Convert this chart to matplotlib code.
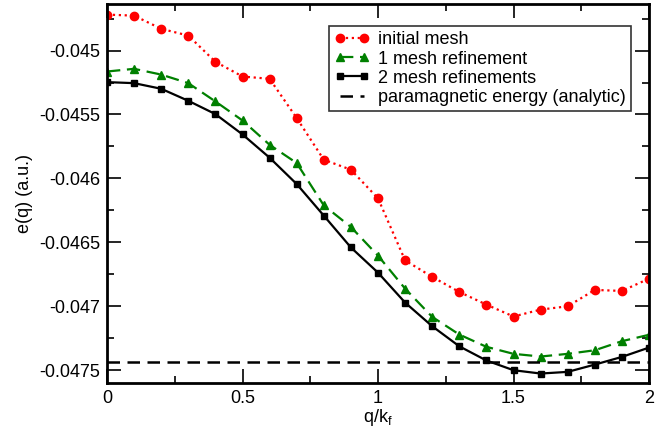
import matplotlib
matplotlib.use("Agg")
import matplotlib.pyplot as plt
from matplotlib.ticker import MultipleLocator, FuncFormatter

plt.rcParams['font.family'] = ['Liberation Sans', 'DejaVu Sans']

q = [0.0, 0.1, 0.2, 0.3, 0.4, 0.5, 0.6, 0.7, 0.8, 0.9, 1.0,
     1.1, 1.2, 1.3, 1.4, 1.5, 1.6, 1.7, 1.8, 1.9, 2.0]

initial_mesh = [-0.044719, -0.044727, -0.044830, -0.044883, -0.045088, -0.045203,
                -0.045221, -0.045528, -0.045854, -0.045932, -0.046156, -0.046641,
                -0.046770, -0.046888, -0.046987, -0.047080, -0.047026, -0.047000,
                -0.046872, -0.046880, -0.046784]

one_refinement = [-0.045164, -0.045143, -0.045188, -0.045255, -0.045398, -0.045547,
                  -0.045737, -0.045880, -0.046211, -0.046380, -0.046604, -0.046862,
                  -0.047083, -0.047221, -0.047317, -0.047372, -0.047393, -0.047372,
                  -0.047344, -0.047273, -0.047223]

two_refinements = [-0.045247, -0.045255, -0.045299, -0.045393, -0.045497, -0.045656,
                   -0.045838, -0.046044, -0.046291, -0.046540, -0.046737, -0.046971,
                   -0.047156, -0.047313, -0.047424, -0.047500, -0.047526, -0.047513,
                   -0.047456, -0.047396, -0.047323]

paramagnetic = -0.047432

labels = ["initial mesh", "1 mesh refinement", "2 mesh refinements",
          "paramagnetic energy (analytic)"]

fig = plt.figure(figsize=(6.68, 4.37), dpi=100)
ax = fig.add_axes([107/668, 1 - 383/437, (649-107)/668, (383-4)/437])

ax.plot(q, initial_mesh, color='red', linestyle=':', linewidth=1.6,
        marker='o', markersize=6, label=labels[0])
ax.plot(q, one_refinement, color='green', linestyle=(0, (6, 3)), linewidth=1.6,
        marker='^', markersize=6, label=labels[1])
ax.plot(q, two_refinements, color='black', linestyle='-', linewidth=1.6,
        marker='s', markersize=5, label=labels[2])
ax.axhline(paramagnetic, color='black', linestyle=(0, (5, 3)), linewidth=1.8,
           label=labels[3])

ax.set_xlim(0, 2)
ax.set_ylim(-0.0476, -0.044636)

ax.xaxis.set_major_locator(MultipleLocator(0.5))
ax.xaxis.set_minor_locator(MultipleLocator(0.25))
ax.yaxis.set_major_locator(MultipleLocator(0.0005))
ax.yaxis.set_minor_locator(MultipleLocator(0.00025))

def xfmt(v, p):
    return f"{v:g}"
def yfmt(v, p):
    return f"{v:.4f}".rstrip('0')
ax.xaxis.set_major_formatter(FuncFormatter(xfmt))
ax.yaxis.set_major_formatter(FuncFormatter(yfmt))

ax.tick_params(which='both', direction='in', top=True, right=True,
               labelsize=13, colors='black', width=1.2)
ax.tick_params(which='major', length=10, pad=5)
ax.tick_params(which='minor', length=5)
for s in ax.spines.values():
    s.set_linewidth(2)

ax.set_xlabel("q/k$_\\mathregular{f}$", fontsize=13, labelpad=0)
ax.set_ylabel("e(q) (a.u.)", fontsize=13, labelpad=4)

leg = ax.legend(loc='upper right', bbox_to_anchor=(0.967, 0.942), fontsize=13,
                numpoints=2, handlelength=1.9, handletextpad=0.5,
                labelspacing=0.12, borderpad=0.3, frameon=True, fancybox=False,
                borderaxespad=0)
leg.get_frame().set_edgecolor('black')
leg.get_frame().set_linewidth(1.2)

fig.savefig("out.png", dpi=100)
